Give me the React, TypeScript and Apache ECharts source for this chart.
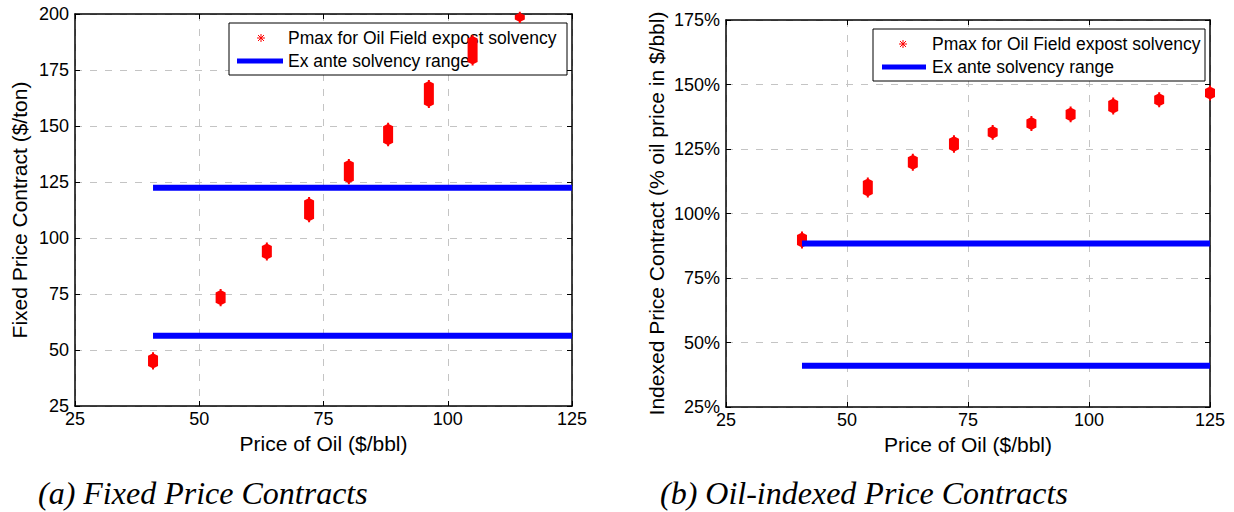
import React, { useEffect, useRef } from "react";
import * as echarts from "echarts";

// ---- data ----
const fixedX = [40.7, 54.3, 63.6, 72.1, 80.1, 88.0, 96.2, 105.0, 114.5];
const fixedLow = [41.3, 69.5, 90.0, 107.0, 124.0, 141.0, 158.0, 177.0, 196.0];
const fixedHigh = [49.0, 77.2, 98.0, 118.3, 135.3, 151.5, 170.5, 190.6, 201.0];

const indexedX = [40.7, 54.3, 63.6, 72.1, 80.1, 88.1, 96.2, 105.0, 114.5, 125.0];
const indexedLow = [86.4, 106.2, 116.6, 123.5, 128.6, 132.0, 135.4, 138.4, 141.2, 143.8];
const indexedHigh = [93.0, 114.0, 123.2, 130.3, 134.3, 137.8, 141.5, 145.0, 147.0, 149.6];

const fixedRange = [56.4, 122.4];
const indexedRange = [41.0, 88.4];
const rangeStartX = 40.7;
const rangeEndX = 125;

const xTicks = [25, 125, 25]; // min, max, interval
const fixedYTicks = [25, 200, 25];
const indexedYTicks = [25, 175, 25];

const legendLabels = ["Pmax for Oil Field expost solvency", "Ex ante solvency range"];
const xName = "Price of Oil ($/bbl)";
const fixedYName = "Fixed Price Contract ($/ton)";
const indexedYName = "Indexed Price Contract (% oil price in $/bbl)";
const captions = ["(a) Fixed Price Contracts", "(b) Oil-indexed Price Contracts"];

const FONT = "'Liberation Sans', Arial, sans-serif";
const RED = "#ff0000";
const BLUE = "#0000ff";

function blobRender(params: any, api: any) {
  const top = api.coord([api.value(0), api.value(2)]);
  const bot = api.coord([api.value(0), api.value(1)]);
  const cx = top[0];
  const t = top[1];
  const b = bot[1];
  const w = 5;
  const points = [
    [cx - 1, t],
    [cx + 1, t],
    [cx + 1, t + 1.5],
    [cx + w, t + 3.5],
    [cx + w, b - 3.5],
    [cx + 1, b - 1.5],
    [cx + 1, b],
    [cx - 1, b],
    [cx - 1, b - 1.5],
    [cx - w, b - 3.5],
    [cx - w, t + 3.5],
    [cx - 1, t + 1.5],
  ];
  return { type: "polygon", shape: { points }, style: { fill: RED } };
}

function star(cx: number, cy: number) {
  const r = 4;
  const d = 3;
  const s = { stroke: RED, lineWidth: 1 };
  return [
    { type: "line", z: 1, shape: { x1: cx - r, y1: cy, x2: cx + r, y2: cy }, style: s },
    { type: "line", z: 1, shape: { x1: cx, y1: cy - r, x2: cx, y2: cy + r }, style: s },
    { type: "line", z: 1, shape: { x1: cx - d, y1: cy - d, x2: cx + d, y2: cy + d }, style: s },
    { type: "line", z: 1, shape: { x1: cx - d, y1: cy + d, x2: cx + d, y2: cy - d }, style: s },
  ];
}

function legend(x: number, y: number, w: number, h: number, starX: number, lineX1: number, lineX2: number, textX: number) {
  const row1 = y + 15;
  const row2 = y + 38;
  return [
    { type: "rect", z: 1, shape: { x, y, width: w, height: h }, style: { fill: "#fff", stroke: "#000", lineWidth: 1 } },
    ...star(starX, row1),
    { type: "line", z: 1, shape: { x1: lineX1, y1: row2, x2: lineX2, y2: row2 }, style: { stroke: BLUE, lineWidth: 5 } },
    { type: "text", z: 1, x: textX, y: row1, style: { text: legendLabels[0], font: `17.5px ${FONT}`, fill: "#000", verticalAlign: "middle" } },
    { type: "text", z: 1, x: textX, y: row2, style: { text: legendLabels[1], font: `17.5px ${FONT}`, fill: "#000", verticalAlign: "middle" } },
  ];
}

function makeXAxes(grid: number, name: string, nameGap: number) {
  const common = {
    gridIndex: grid,
    type: "value",
    min: xTicks[0],
    max: xTicks[1],
    interval: xTicks[2],
    axisLine: { show: true, onZero: false, lineStyle: { color: "#000", width: 1.5 } },
    axisTick: { show: true, inside: true, length: 5, lineStyle: { color: "#000", width: 1 } },
  };
  return [
    {
      ...common,
      position: "bottom",
      name,
      nameLocation: "middle",
      nameGap,
      nameTextStyle: { fontFamily: FONT, fontSize: 21, color: "#000" },
      axisLabel: { fontFamily: FONT, fontSize: 18, color: "#000", margin: 4 },
      splitLine: { show: true, lineStyle: { color: "#c4c4c4", type: [7, 8], width: 1 } },
    },
    {
      ...common,
      position: "top",
      axisLabel: { show: false },
      splitLine: { show: false },
    },
  ];
}

function makeYAxes(grid: number, ticks: number[], name: string, nameGap: number, pct: boolean) {
  const common = {
    gridIndex: grid,
    type: "value",
    min: ticks[0],
    max: ticks[1],
    interval: ticks[2],
    axisLine: { show: true, onZero: false, lineStyle: { color: "#000", width: 1.5 } },
    axisTick: { show: true, inside: true, length: 5, lineStyle: { color: "#000", width: 1 } },
  };
  return [
    {
      ...common,
      position: "left",
      name,
      nameLocation: "middle",
      nameGap,
      nameTextStyle: { fontFamily: FONT, fontSize: 21, color: "#000" },
      axisLabel: { fontFamily: FONT, fontSize: 18, color: "#000", margin: 6, formatter: pct ? "{value}%" : "{value}" },
      splitLine: { show: true, lineStyle: { color: "#c4c4c4", type: [7, 8], width: 1 } },
    },
    {
      ...common,
      position: "right",
      axisLabel: { show: false },
      splitLine: { show: false },
    },
  ];
}

export default function App() {
  const ref = useRef<HTMLDivElement>(null);
  useEffect(() => {
    document.body.style.margin = "0";
    if (!ref.current) return;
    const chart = echarts.init(ref.current, undefined, { renderer: "svg" });

    const fixedBlobs = fixedX.map((x, i) => [x, fixedLow[i], fixedHigh[i]]);
    const indexedBlobs = indexedX.map((x, i) => [x, indexedLow[i], indexedHigh[i]]);

    const option: any = {
      animation: false,
      backgroundColor: "#fff",
      grid: [
        { left: 75, top: 14, width: 497, height: 392 },
        { left: 726, top: 20, width: 484, height: 387 },
      ],
      xAxis: [...makeXAxes(0, xName, 24), ...makeXAxes(1, xName, 26)],
      yAxis: [
        ...makeYAxes(0, fixedYTicks, fixedYName, 45, false),
        ...makeYAxes(1, indexedYTicks, indexedYName, 59, true),
      ],
      series: [
        {
          type: "custom",
          name: legendLabels[0],
          xAxisIndex: 0,
          yAxisIndex: 0,
          clip: false,
          z: 3,
          renderItem: blobRender,
          encode: { x: 0, y: [1, 2] },
          data: fixedBlobs,
        },
        ...fixedRange.map((v) => ({
          type: "line",
          name: legendLabels[1],
          xAxisIndex: 0,
          yAxisIndex: 0,
          showSymbol: false,
          z: 4,
          lineStyle: { color: BLUE, width: 6, cap: "butt" },
          data: [[rangeStartX, v], [rangeEndX, v]],
        })),
        {
          type: "custom",
          name: legendLabels[0],
          xAxisIndex: 2,
          yAxisIndex: 2,
          clip: false,
          z: 3,
          renderItem: blobRender,
          encode: { x: 0, y: [1, 2] },
          data: indexedBlobs,
        },
        ...indexedRange.map((v) => ({
          type: "line",
          name: legendLabels[1],
          xAxisIndex: 2,
          yAxisIndex: 2,
          showSymbol: false,
          z: 4,
          lineStyle: { color: BLUE, width: 6, cap: "butt" },
          data: [[rangeStartX, v], [rangeEndX, v]],
        })),
      ],
      graphic: [
        ...legend(229, 23, 338, 52, 261, 237, 283, 288),
        ...legend(873, 29, 332, 52, 903, 882, 926, 932),
        {
          type: "text",
          x: 38,
          y: 493,
          style: { text: captions[0], font: `italic 32px 'Liberation Serif', 'Times New Roman', serif`, fill: "#000", verticalAlign: "middle" },
        },
        {
          type: "text",
          x: 660,
          y: 493,
          style: { text: captions[1], font: `italic 32px 'Liberation Serif', 'Times New Roman', serif`, fill: "#000", verticalAlign: "middle" },
        },
      ],
    };
    chart.setOption(option);
    return () => chart.dispose();
  }, []);
  return <div ref={ref} style={{ width: 1234, height: 512 }} />;
}
